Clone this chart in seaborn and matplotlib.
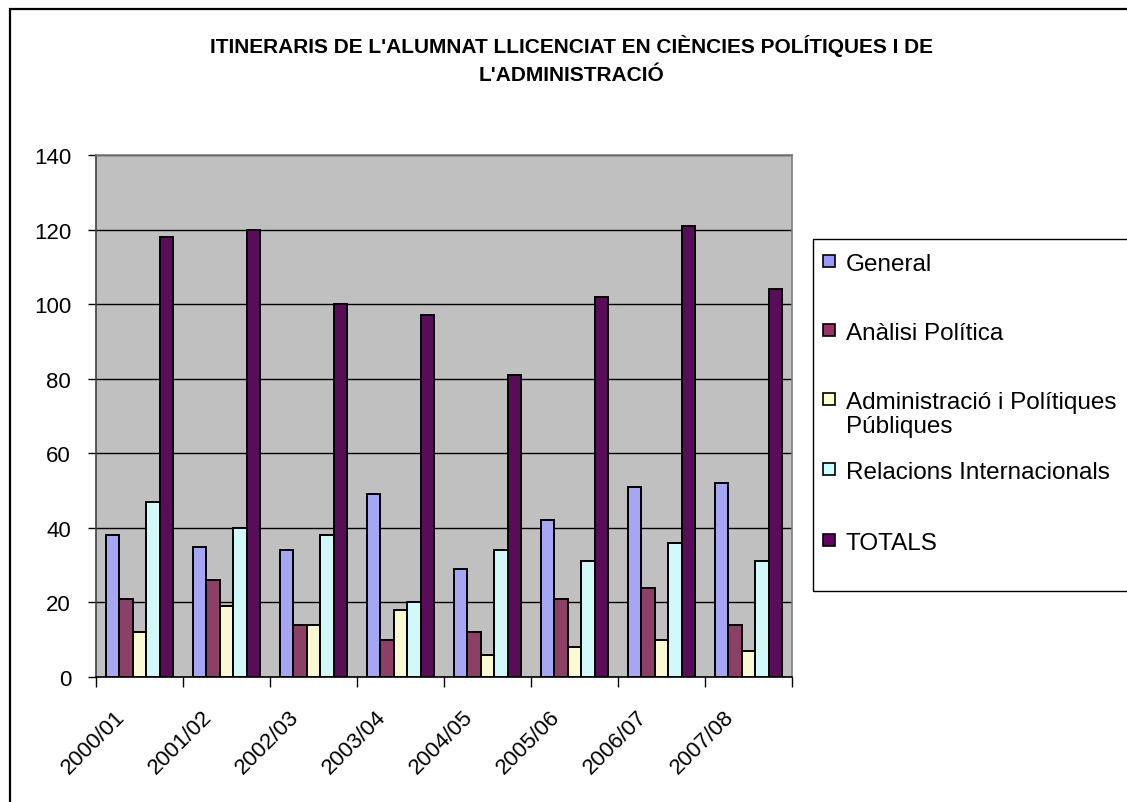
import matplotlib
matplotlib.use("Agg")
import matplotlib.pyplot as plt
import matplotlib.patches as mpatches
import matplotlib.transforms as mtransforms
import seaborn as sns
import pandas as pd

years = ["2000/01", "2001/02", "2002/03", "2003/04", "2004/05", "2005/06", "2006/07", "2007/08"]
series = ["General", "Anàlisi Política", "Administració i Polítiques Públiques",
          "Relacions Internacionals", "TOTALS"]
legend_labels = ["General", "Anàlisi Política", "Administració i Polítiques\nPúbliques",
                 "Relacions Internacionals", "TOTALS"]
general = [38, 35, 34, 49, 29, 42, 51, 52]
analisi = [21, 26, 14, 10, 12, 21, 24, 14]
administracio = [12, 19, 14, 18, 6, 8, 10, 7]
relacions = [47, 40, 38, 20, 34, 31, 36, 31]
totals = [118, 120, 100, 97, 81, 102, 121, 104]
colors = ["#9999FF", "#993366", "#FFFFCC", "#CCFFFF", "#660066"]
yticks = [0, 20, 40, 60, 80, 100, 120, 140]
title = "ITINERARIS DE L'ALUMNAT LLICENCIAT EN CIÈNCIES POLÍTIQUES I DE\nL'ADMINISTRACIÓ"

values = [general, analisi, administracio, relacions, totals]
rows = []
for s, vals in zip(series, values):
    for y, v in zip(years, vals):
        rows.append({"year": y, "series": s, "value": v})
df = pd.DataFrame(rows)

sns.set_theme(style="white")
plt.rcParams['font.family'] = ['Liberation Sans', 'DejaVu Sans']
plt.rcParams['text.color'] = 'black'

W, H = 1127, 803
fig = plt.figure(figsize=(W / 100, H / 100), dpi=100)
fig.patch.set_facecolor("white")

ax = fig.add_axes([96 / W, 1 - 678 / H, (792 - 96) / W, (678 - 156) / H])
ax.set_facecolor("#C0C0C0")

sns.barplot(data=df, x="year", y="value", hue="series", order=years, hue_order=series,
            palette=colors, width=0.78, edgecolor="black", linewidth=1.4,
            ax=ax, legend=True, zorder=3)

ax.set_xlim(-0.5, len(years) - 0.5)
ax.set_ylim(0, 140)
ax.set_yticks(yticks)
ax.set_yticklabels([str(t) for t in yticks], fontsize=16, color="black")
ax.yaxis.grid(True, color="black", linewidth=1.0, zorder=0)
ax.set_axisbelow(True)
ax.set_xlabel("")
ax.set_ylabel("")
ax.tick_params(axis="y", length=6, width=1, color="black", pad=12, left=True)

# x: labels at centers, ticks at boundaries
ax.set_xticks(range(len(years)))
ax.set_xticklabels(years, fontsize=16, rotation=45, ha="right", va="top",
                   rotation_mode="anchor", color="black")
ax.tick_params(axis="x", which="major", length=0, pad=21)
offset = mtransforms.ScaledTranslation(-25 / 100, 0, fig.dpi_scale_trans)
for lab in ax.get_xticklabels():
    lab.set_transform(lab.get_transform() + offset)
ax.set_xticks([i - 0.5 for i in range(len(years) + 1)], minor=True)
ax.tick_params(axis="x", which="minor", length=7, width=1, color="black", bottom=True)

for side in ["top", "right"]:
    ax.spines[side].set_visible(True)
    ax.spines[side].set_color("#808080")
    ax.spines[side].set_linewidth(1.2)
ax.spines["left"].set_color("#404040")
ax.spines["left"].set_linewidth(1.2)
ax.spines["bottom"].set_color("black")
ax.spines["bottom"].set_linewidth(1.2)

# legend (manual placement to mimic the original spacing)
ax.get_legend().remove()
legend_y = [262, 331, 400, 470, 541]
for lab, col, ly in zip(legend_labels, colors, legend_y):
    fig.add_artist(mpatches.Rectangle((823 / W, 1 - (ly + 6) / H), 12 / W, 12 / H,
                                      transform=fig.transFigure, facecolor=col,
                                      edgecolor="black", linewidth=1.2))
    fig.text(846 / W, 1 - (ly - 8) / H, lab, ha="left", va="top", fontsize=17.5,
             color="black", linespacing=1.1)

fig.add_artist(mpatches.Rectangle((813 / W, 1 - 592 / H), (W - 813 + 20) / W, (592 - 240) / H,
                                  transform=fig.transFigure, fill=False,
                                  edgecolor="black", linewidth=1.0, clip_on=False))

# outer frame
fig.add_artist(mpatches.Rectangle((10 / W, -0.05), 1.1, 1 - 10 / H + 0.05,
                                  transform=fig.transFigure, fill=False,
                                  edgecolor="black", linewidth=1.6, clip_on=False))

fig.text(571 / W, 1 - 60 / H, title, ha="center", va="center", fontsize=15,
         fontweight="bold", family=['Liberation Sans Narrow', 'Liberation Sans'],
         linespacing=1.6, color="black")

fig.savefig("out.png", dpi=100)
